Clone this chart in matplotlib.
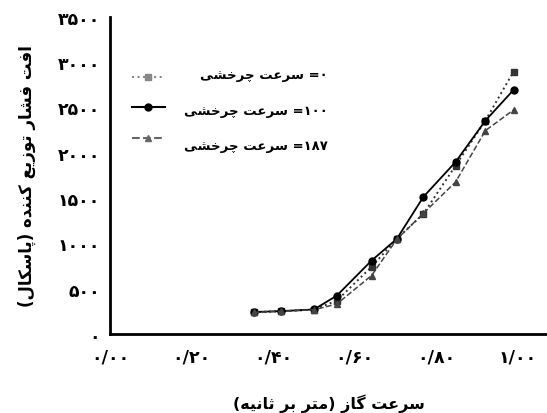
"""
Pressure drop vs gas velocity for three rotation speeds (Persian labels).
"""
import matplotlib
matplotlib.use("Agg")
import matplotlib.pyplot as plt
from matplotlib.lines import Line2D

# ==========================================
# DATA
# ==========================================
gas_velocity = [0.352, 0.419, 0.50, 0.556, 0.641, 0.703, 0.768, 0.847, 0.92, 0.989]
dp_rpm0 = [240, 250, 268, 368, 740, 1050, 1324, 1858, 2354, 2895]
dp_rpm100 = [242, 252, 270, 423, 809, 1049, 1512, 1898, 2354, 2693]
dp_rpm187 = [238, 250, 266, 331, 644, 1045, 1330, 1677, 2244, 2472]

rpm_labels = ["۰", "۱۰۰", "۱۸۷"]
x_ticks = [0.0, 0.2, 0.4, 0.6, 0.8, 1.0]
x_tick_labels = ["۰/۰۰", "۰/۲۰", "۰/۴۰", "۰/۶۰", "۰/۸۰", "۱/۰۰"]
y_ticks = [0, 500, 1000, 1500, 2000, 2500, 3000, 3500]
y_tick_labels = ["۰", "۵۰۰", "۱۰۰۰", "۱۵۰۰", "۲۰۰۰", "۲۵۰۰", "۳۰۰۰", "۳۵۰۰"]

X_LABEL = "سرعت گاز (متر بر ثانیه)"
Y_LABEL = "افت فشار توزیع کننده (پاسکال)"
SERIES_NAME = "سرعت چرخشی"

# ==========================================
# Arabic/Persian shaping (no bidi lib available)
# isolated, final, initial, medial
# ==========================================
FORMS = {
    'ا': (0xFE8D, 0xFE8E),
    'ب': (0xFE8F, 0xFE90, 0xFE91, 0xFE92),
    'پ': (0xFB56, 0xFB57, 0xFB58, 0xFB59),
    'ت': (0xFE95, 0xFE96, 0xFE97, 0xFE98),
    'ث': (0xFE99, 0xFE9A, 0xFE9B, 0xFE9C),
    'چ': (0xFB7A, 0xFB7B, 0xFB7C, 0xFB7D),
    'خ': (0xFEA5, 0xFEA6, 0xFEA7, 0xFEA8),
    'د': (0xFEA9, 0xFEAA),
    'ر': (0xFEAD, 0xFEAE),
    'ز': (0xFEAF, 0xFEB0),
    'س': (0xFEB1, 0xFEB2, 0xFEB3, 0xFEB4),
    'ش': (0xFEB5, 0xFEB6, 0xFEB7, 0xFEB8),
    'ع': (0xFEC9, 0xFECA, 0xFECB, 0xFECC),
    'ف': (0xFED1, 0xFED2, 0xFED3, 0xFED4),
    'ک': (0xFB8E, 0xFB8F, 0xFB90, 0xFB91),
    'گ': (0xFB92, 0xFB93, 0xFB94, 0xFB95),
    'ل': (0xFEDD, 0xFEDE, 0xFEDF, 0xFEE0),
    'م': (0xFEE1, 0xFEE2, 0xFEE3, 0xFEE4),
    'ن': (0xFEE5, 0xFEE6, 0xFEE7, 0xFEE8),
    'ه': (0xFEE9, 0xFEEA, 0xFEEB, 0xFEEC),
    'و': (0xFEED, 0xFEEE),
    'ی': (0xFBFC, 0xFBFD, 0xFBFE, 0xFBFF),
}


def shape(text):
    """Return visual-order string with contextual letter forms."""
    out = []
    for i, ch in enumerate(text):
        if ch not in FORMS:
            out.append(ch)
            continue
        prev = text[i - 1] if i > 0 else ''
        nxt = text[i + 1] if i + 1 < len(text) else ''
        f = FORMS[ch]
        join_prev = prev in FORMS and len(FORMS[prev]) == 4
        join_next = nxt in FORMS and len(f) == 4
        if join_prev and join_next:
            c = f[3]
        elif join_prev:
            c = f[1]
        elif join_next:
            c = f[2]
        else:
            c = f[0]
        out.append(chr(c))
    visual = ''.join(out)[::-1]
    return visual.translate({ord('('): ')', ord(')'): '('})


plt.rcParams['font.family'] = ['DejaVu Sans']
plt.rcParams['font.weight'] = 'bold'

fig = plt.figure(figsize=(5.47, 4.14), dpi=100)
ax = fig.add_axes([0.201, 0.191, 0.799, 0.766])

ax.plot(gas_velocity, dp_rpm0, linestyle=':', color='#333333', linewidth=1.4,
        marker='s', markersize=5)
ax.plot(gas_velocity, dp_rpm100, linestyle='-', color='black', linewidth=1.3,
        marker='o', markersize=5)
ax.plot(gas_velocity, dp_rpm187, linestyle='--', color='#444444', linewidth=1.1,
        marker='^', markersize=5)

ax.set_xlim(0, 1.071)
ax.set_ylim(0, 3500)
ax.set_xticks(x_ticks)
ax.set_xticklabels(x_tick_labels, fontsize=12.5, fontweight='bold')
ax.set_yticks(y_ticks)
ax.set_yticklabels(y_tick_labels, fontsize=12.5, fontweight='bold')
ax.tick_params(length=0)
ax.tick_params(axis='y', pad=7)
ax.tick_params(axis='x', pad=10)

for side in ['top', 'right']:
    ax.spines[side].set_visible(False)
for side in ['left', 'bottom']:
    ax.spines[side].set_linewidth(2)

ax.set_xlabel(shape(X_LABEL), fontsize=11.5, fontweight='bold', labelpad=20)
ax.set_ylabel(shape(Y_LABEL), fontsize=12, fontweight='bold', labelpad=16)

# legend: handles from matplotlib, labels right-aligned next to them
handles = [
    Line2D([], [], linestyle=':', color='#888888', marker='s', markersize=5),
    Line2D([], [], linestyle='-', color='black', marker='o', markersize=5),
    Line2D([], [], linestyle='--', color='#666666', marker='^', markersize=5),
]
ax.legend(handles, [''] * 3, loc='upper left', bbox_to_anchor=(0.034, 0.852),
          frameon=False, handlelength=2.4, labelspacing=1.2, borderpad=0)
for i, rpm in enumerate(rpm_labels):
    ax.text(0.499, 0.817 - i * 0.112, shape(SERIES_NAME) + " =" + rpm,
            transform=ax.transAxes, ha='right', va='center',
            fontsize=9.5, fontweight='bold')

fig.savefig("out.png", dpi=100)
